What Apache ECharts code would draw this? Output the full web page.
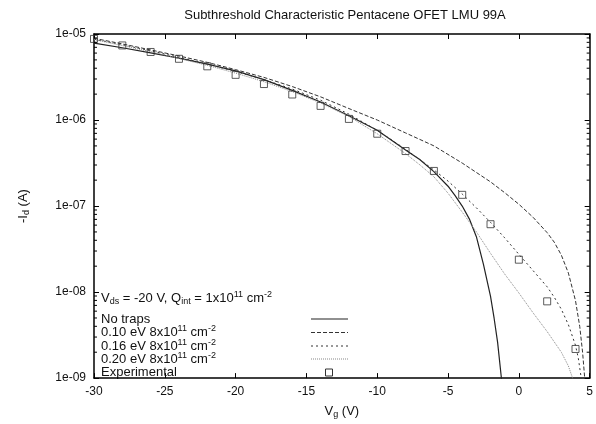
<!DOCTYPE html>
<html>
<head>
<meta charset="utf-8">
<script src="https://cdn.jsdelivr.net/npm/echarts@6/dist/echarts.min.js"></script>
<style>
html, body { margin: 0; padding: 0; background: #fff; }
#chart { width: 596px; height: 424px; }
</style>
</head>
<body>
<div id="chart"></div>
<script>
// gate voltage (V) and drain current (A)
var vg_notraps = [-30, -28, -26, -24, -22, -20, -18, -16, -14, -12, -10, -8, -7, -6, -5, -4.5, -4, -3.5, -3, -2.5, -2, -1.75, -1.5, -1.2];
var id_notraps = [7.83e-6, 6.92e-6, 6.03e-6, 5.25e-6, 4.47e-6, 3.72e-6, 2.95e-6, 2.21e-6, 1.62e-6, 1.12e-6, 7.59e-7, 4.47e-7, 3.47e-7, 2.51e-7, 1.70e-7, 1.32e-7, 1.0e-7, 7.1e-8, 4.4e-8, 2.1e-8, 8.9e-9, 5.0e-9, 2.6e-9, 8.9e-10];

var vg_010 = [-30, -28, -26, -24, -22, -20, -18, -16, -14, -12, -10, -8, -6, -4, -2, -1, 0, 1, 2, 2.5, 3, 3.5, 4, 4.3, 4.5, 4.65, 4.7];
var id_010 = [8.91e-6, 7.67e-6, 6.53e-6, 5.56e-6, 4.68e-6, 3.85e-6, 3.13e-6, 2.45e-6, 1.86e-6, 1.36e-6, 1.0e-6, 7.08e-7, 5.01e-7, 3.16e-7, 1.91e-7, 1.43e-7, 1.05e-7, 7.41e-8, 4.90e-8, 3.80e-8, 2.69e-8, 1.66e-8, 7.94e-9, 3.98e-9, 2.0e-9, 1.0e-9, 7.9e-10];

var vg_016 = [-30, -28, -26, -24, -22, -20, -18, -16, -14, -12, -10, -8, -6, -5, -4, -3, -2, -1, 0, 1, 2, 2.5, 3, 3.5, 4, 4.2, 4.45];
var id_016 = [8.71e-6, 7.50e-6, 6.38e-6, 5.37e-6, 4.47e-6, 3.67e-6, 2.95e-6, 2.29e-6, 1.70e-6, 1.17e-6, 7.59e-7, 4.57e-7, 2.63e-7, 1.95e-7, 1.38e-7, 9.55e-8, 6.46e-8, 4.27e-8, 2.75e-8, 1.78e-8, 1.15e-8, 8.71e-9, 6.31e-9, 4.17e-9, 2.40e-9, 1.70e-9, 8.9e-10];

var vg_020 = [-30, -28, -26, -24, -22, -20, -18, -16, -14, -12, -10, -8, -7, -6, -5, -4, -3, -2, -1, 0, 1, 2, 3, 3.5, 3.9];
var id_020 = [8.61e-6, 7.33e-6, 6.24e-6, 5.19e-6, 4.32e-6, 3.51e-6, 2.79e-6, 2.14e-6, 1.58e-6, 1.10e-6, 6.92e-7, 4.07e-7, 3.02e-7, 2.19e-7, 1.41e-7, 8.51e-8, 5.01e-8, 2.82e-8, 1.62e-8, 9.77e-9, 5.75e-9, 3.47e-9, 2.0e-9, 1.38e-9, 8.9e-10];

var vg_exp = [-30, -28, -26, -24, -22, -20, -18, -16, -14, -12, -10, -8, -6, -4, -2, 0, 2, 4];
var id_exp = [8.77e-6, 7.36e-6, 6.18e-6, 5.15e-6, 4.21e-6, 3.35e-6, 2.62e-6, 1.98e-6, 1.46e-6, 1.03e-6, 6.93e-7, 4.36e-7, 2.56e-7, 1.35e-7, 6.15e-8, 2.38e-8, 7.8e-9, 2.18e-9];

var x_min = -30, x_max = 5;
var y_min = 1e-9, y_max = 1e-5;

function pairs(xs, ys) {
	return xs.map(function (x, i) { return [x, ys[i]]; });
}

// minor log ticks 2..9 in every decade
var minor_ticks = [];
for (var k = -9; k <= -6; k++) {
	for (var m = 2; m <= 9; m++) minor_ticks.push([x_min, m * Math.pow(10, k)]);
}

var font = 'Liberation Sans';
var rich = {
	sub: { fontSize: 9, fontFamily: font, lineHeight: 9, verticalAlign: 'bottom', fill: '#111' },
	sup: { fontSize: 9, fontFamily: font, lineHeight: 9, verticalAlign: 'top', fill: '#111' }
};

function lineSeries(name, data, type, color, width) {
	return {
		name: name,
		type: 'line',
		data: data,
		showSymbol: false,
		smooth: false,
		clip: true,
		lineStyle: { color: color, width: width, type: type },
		emphasis: { disabled: true },
		z: 3
	};
}

var chartDom = document.getElementById('chart');
var myChart = echarts.init(chartDom);
var option;

var legend_x = 101;
var sample_x1 = 311, sample_x2 = 348;
var rows = [
	{ text: 'No traps', y: 319, dash: 'solid', color: '#222', w: 1.2 },
	{ text: '0.10 eV 8x10{sup|11} cm{sup|-2}', y: 332.5, dash: [4, 2], color: '#333', w: 1 },
	{ text: '0.16 eV 8x10{sup|11} cm{sup|-2}', y: 346, dash: [2, 3], color: '#333', w: 1 },
	{ text: '0.20 eV 8x10{sup|11} cm{sup|-2}', y: 359, dash: [1, 1], color: '#888', w: 1 }
];

var graphics = [{
	type: 'text', x: legend_x, y: 298,
	style: {
		text: 'V{sub|ds} = -20 V, Q{sub|int} = 1x10{sup|11} cm{sup|-2}',
		rich: rich, fontSize: 13, fontFamily: font, fill: '#111', lineHeight: 16, verticalAlign: 'middle'
	}
}];
rows.forEach(function (r) {
	graphics.push({
		type: 'text', x: legend_x, y: r.y,
		style: { text: r.text, rich: rich, fontSize: 13, fontFamily: font, fill: '#111', lineHeight: 16, verticalAlign: 'middle' }
	});
	graphics.push({
		type: 'line',
		shape: { x1: sample_x1, y1: r.y, x2: sample_x2, y2: r.y },
		style: { stroke: r.color, lineWidth: r.w, lineDash: r.dash === 'solid' ? null : r.dash }
	});
});
graphics.push({
	type: 'text', x: legend_x, y: 372.5,
	style: { text: 'Experimental', fontSize: 13, fontFamily: font, fill: '#111', verticalAlign: 'middle' }
});
graphics.push({
	type: 'rect', shape: { x: 325.5, y: 369, width: 7, height: 7 },
	style: { fill: 'none', stroke: '#333', lineWidth: 1 }
});

option = {
	backgroundColor: '#fff',
	animation: false,
	title: {
		text: 'Subthreshold Characteristic Pentacene OFET LMU 99A',
		left: 340,
		top: 4,
		textAlign: 'center',
		textStyle: { fontFamily: font, fontSize: 13, fontWeight: 'normal', color: '#111' }
	},
	grid: { left: 94, right: 6, top: 34, bottom: 39 },
	xAxis: [{
		type: 'value',
		min: x_min, max: x_max, interval: 5,
		name: 'V{sub|g} (V)',
		nameLocation: 'middle',
		nameGap: 22,
		nameTextStyle: { fontFamily: font, fontSize: 13, color: '#111', lineHeight: 16, rich: rich },
		axisLine: { show: true, onZero: false, lineStyle: { color: '#000', width: 1.5 } },
		axisTick: { show: true, inside: true, length: 5, lineStyle: { color: '#000' } },
		axisLabel: { fontFamily: font, fontSize: 12, color: '#111', margin: 8 },
		splitLine: { show: false }
	}, {
		type: 'value', position: 'top',
		min: x_min, max: x_max, interval: 5,
		axisLine: { show: true, onZero: false, lineStyle: { color: '#000', width: 1.5 } },
		axisTick: { show: true, inside: true, length: 5, lineStyle: { color: '#000' } },
		axisLabel: { show: false },
		splitLine: { show: false }
	}],
	yAxis: [{
		type: 'log', logBase: 10,
		min: y_min, max: y_max,
		name: '-I{sub|d} (A)',
		nameLocation: 'middle',
		nameRotate: 90,
		nameGap: 63,
		nameTextStyle: { fontFamily: font, fontSize: 13, color: '#111', lineHeight: 16, rich: rich },
		axisLine: { show: true, onZero: false, lineStyle: { color: '#000', width: 1.5 } },
		axisTick: { show: true, inside: true, length: 5, lineStyle: { color: '#000' } },
		axisLabel: {
			fontFamily: font, fontSize: 12, color: '#111', margin: 8,
			formatter: function (v) {
				var e = Math.round(Math.log10(v));
				return '1e-' + String(-e).padStart(2, '0');
			}
		},
		splitLine: { show: false }
	}, {
		type: 'log', logBase: 10, position: 'right',
		min: y_min, max: y_max,
		axisLine: { show: true, onZero: false, lineStyle: { color: '#000', width: 1.5 } },
		axisTick: { show: true, inside: true, length: 5, lineStyle: { color: '#000' } },
		axisLabel: { show: false },
		splitLine: { show: false }
	}],
	series: [
		lineSeries('No traps', pairs(vg_notraps, id_notraps), 'solid', '#222', 1.2),
		lineSeries('0.10 eV', pairs(vg_010, id_010), [4, 2], '#333', 1),
		lineSeries('0.16 eV', pairs(vg_016, id_016), [2, 3], '#333', 1),
		lineSeries('0.20 eV', pairs(vg_020, id_020), [1, 1], '#888', 1),
		{
			name: 'Experimental',
			type: 'scatter',
			data: pairs(vg_exp, id_exp),
			symbol: 'rect',
			symbolSize: 7,
			itemStyle: { color: 'rgba(0,0,0,0)', borderColor: '#333', borderWidth: 1 },
			emphasis: { disabled: true },
			z: 4
		},
		{
			name: 'minor ticks',
			type: 'custom',
			data: minor_ticks,
			silent: true,
			clip: false,
			renderItem: function (params, api) {
				var v = api.value(1);
				var l = api.coord([x_min, v]);
				var r = api.coord([x_max, v]);
				return {
					type: 'group',
					children: [
						{ type: 'line', shape: { x1: l[0], y1: l[1], x2: l[0] + 3, y2: l[1] }, style: { stroke: '#000', lineWidth: 1 } },
						{ type: 'line', shape: { x1: r[0] - 3, y1: r[1], x2: r[0], y2: r[1] }, style: { stroke: '#000', lineWidth: 1 } }
					]
				};
			},
			z: 5
		}
	],
	graphic: graphics
};

option && myChart.setOption(option);
</script>
</body>
</html>
